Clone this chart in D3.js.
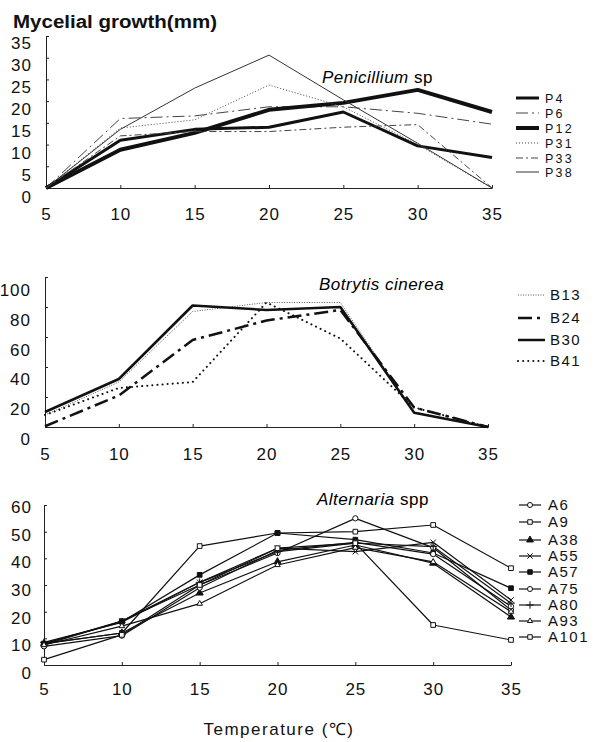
<!DOCTYPE html>
<html>
<head>
<meta charset="utf-8">
<script src="https://cdn.jsdelivr.net/npm/d3@7"></script>
<style>
  body { margin: 0; background: #fff; }
  svg { font-family: "Liberation Sans", Arial, sans-serif; }
  .axis path, .axis line { stroke: #222; stroke-width: 1px; }
  .axis text { font-size: 17px; fill: #111; letter-spacing: 1px; }
  .legend text { font-size: 15px; fill: #111; letter-spacing: 1.5px; }
  .legend.tight text { font-size: 12.5px; letter-spacing: 2.2px; }
</style>
</head>
<body>
<script>
// temperatures (x)
var temps = [5, 10, 15, 20, 25, 30, 35];

// Penicillium sp
var penNames = ["P4", "P6", "P12", "P31", "P33", "P38"];
var P4  = [0, 11, 13.5, 14, 17.5, 9.7, 7];
var P6  = [0, 16, 16.6, 18.7, 18.7, 17.2, 14.7];
var P12 = [0, 8.8, 12.7, 18, 19.6, 22.6, 17.5];
var P31 = [0, 13.8, 15.7, 23.7, 18.7, 10, 0];
var P33 = [0, 12, 13, 13, 14, 14.6, 0];
var P38 = [0, 13.5, 23, 30.6, 20.3, 10.3, 0];
var penTicks = [0, 5, 10, 15, 20, 25, 30, 35];

// Botrytis cinerea
var botNames = ["B13", "B24", "B30", "B41"];
var B13 = [8, 30, 77, 83, 83, 10, 0];
var B24 = [0.5, 21, 58, 71, 78, 13, 0];
var B30 = [10, 32, 81, 78, 80, 9.5, 0];
var B41 = [8, 26, 30, 83, 59, 13, 0];
var botTicks = [0, 20, 40, 60, 80, 100];

// Alternaria spp
var altNames = ["A6", "A9", "A38", "A55", "A57", "A75", "A80", "A93", "A101"];
var A6   = [8, 16.5, 30, 42, 55, 44, 20.6];
var A9   = [8, 12, 44.6, 49.5, 50, 52.5, 36.3];
var A38  = [8, 12, 27, 38.7, 45, 38.2, 18];
var A55  = [7.5, 16.5, 31, 43.8, 42.5, 46, 24.4];
var A57  = [8, 16.2, 33.8, 49.5, 47, 42, 28.8];
var A75  = [7, 11, 29, 43, 46, 41.6, 22];
var A80  = [8.5, 16, 31, 42.5, 45.7, 44.4, 23.2];
var A93  = [7.5, 14.6, 23, 37.5, 44, 38.7, 20];
var A101 = [2, 11.3, 30, 43.8, 45.7, 15, 9.4];
var altTicks = [0, 10, 20, 30, 40, 50, 60];

var svg = d3.select("body").append("svg")
  .attr("width", 598)
  .attr("height", 742);

// draws both axes; labels of the y axis sit a little lower than the ticks, as in the scan
function axes(x, y, yTicks, labelY, xPad, yPad) {
  var gx = svg.append("g")
    .attr("class", "axis")
    .attr("transform", "translate(0," + y(0) + ")")
    .call(d3.axisBottom(x).tickValues(temps).tickSizeInner(-3).tickSizeOuter(0).tickPadding(xPad));
  gx.selectAll("text").attr("dy", "0.71em");

  var gy = svg.append("g")
    .attr("class", "axis")
    .attr("transform", "translate(" + x(5) + ",0)")
    .call(d3.axisLeft(y).tickValues(yTicks).tickSizeInner(-3).tickSizeOuter(0).tickPadding(yPad));
  gy.selectAll("text").attr("y", function(d) { return labelY(d) - y(d); });
}

function lines(x, y, series) {
  var line = d3.line()
    .x(function(d, i) { return x(temps[i]); })
    .y(function(d) { return y(d); });
  svg.append("g").selectAll("path")
    .data(series)
    .enter().append("path")
    .attr("d", function(s) { return line(s.values); })
    .attr("fill", "none")
    .attr("stroke", function(s) { return s.color || "#111"; })
    .attr("stroke-width", function(s) { return s.width; })
    .attr("stroke-dasharray", function(s) { return s.dash; })
    .attr("stroke-linecap", function(s) { return s.cap || "butt"; })
    .attr("stroke-linejoin", "round");
}

function legend(series, x0, x1, tx, ys, cls) {
  var g = svg.append("g").attr("class", "legend " + (cls || ""));
  var item = g.selectAll("g").data(series).enter().append("g")
    .attr("transform", function(s, i) { return "translate(0," + ys[i] + ")"; });
  item.append("line")
    .attr("x1", x0).attr("x2", x1)
    .attr("stroke", function(s) { return s.color || "#111"; })
    .attr("stroke-width", function(s) { return s.width; })
    .attr("stroke-dasharray", function(s) { return s.dash; })
    .attr("stroke-linecap", function(s) { return s.cap || "butt"; });
  item.append("text")
    .attr("x", tx)
    .attr("dy", "0.36em")
    .text(function(s) { return s.name; });
  return item;
}

function title(x, y, italic, plain) {
  var t = svg.append("text")
    .attr("x", x).attr("y", y)
    .style("font-size", "17px")
    .style("letter-spacing", "0.5px");
  t.append("tspan").style("font-style", "italic").text(italic);
  if (plain) { t.append("tspan").text(" " + plain); }
}

// ---------- Penicillium ----------
var x1 = d3.scaleLinear().domain([5, 35]).range([46, 492]);
var y1 = d3.scaleLinear().domain([0, 35]).range([188, 36]);
var y1l = d3.scaleLinear().domain([0, 35]).range([197, 43]);

svg.append("text")
  .attr("x", 13).attr("y", 28)
  .attr("textLength", 204).attr("lengthAdjust", "spacingAndGlyphs")
  .style("font-size", "18px").style("font-weight", "bold").style("fill", "#111")
  .text("Mycelial growth(mm)");

axes(x1, y1, penTicks, y1l, 20, 14);

var pen = [
  { name: "P4",  values: P4,  width: 3,   dash: null },
  { name: "P6",  values: P6,  width: 1,   dash: "12,4,2,4", color: "#444" },
  { name: "P12", values: P12, width: 4,   dash: null },
  { name: "P31", values: P31, width: 1,   dash: "1,2", color: "#444" },
  { name: "P33", values: P33, width: 1,   dash: "7,3,2,3", color: "#444" },
  { name: "P38", values: P38, width: 1,   dash: null, color: "#333" }
];
lines(x1, y1, pen);
legend(pen, 516, 539, 545, [98, 113, 128, 143, 158, 172], "tight");
title(322, 83, "Penicillium", "sp");

// ---------- Botrytis ----------
var x2 = d3.scaleLinear().domain([5, 35]).range([45, 488]);
var y2 = d3.scaleLinear().domain([0, 100]).range([427, 277]);
var y2l = d3.scaleLinear().domain([0, 100]).range([439, 290]);

axes(x2, y2, botTicks, y2l, 21, 14);

var bot = [
  { name: "B13", values: B13, width: 1,   dash: "1,1.5", color: "#555" },
  { name: "B24", values: B24, width: 2.5, dash: "14,5,3,5" },
  { name: "B30", values: B30, width: 2.5, dash: null },
  { name: "B41", values: B41, width: 2,   dash: "0.1,5", cap: "round" }
];
lines(x2, y2, bot);
legend(bot, 518, 545, 550, [295, 318, 340, 361]);
title(319, 290, "Botrytis cinerea", null);

// ---------- Alternaria ----------
var x3 = d3.scaleLinear().domain([5, 35]).range([44, 511]);
var y3 = d3.scaleLinear().domain([0, 60]).range([665, 505]);
var y3l = d3.scaleLinear().domain([0, 60]).range([673, 507]);

axes(x3, y3, altTicks, y3l, 18, 12);

var alt = [
  { name: "A6",   values: A6,   sym: d3.symbolCircle,   fill: "#fff" },
  { name: "A9",   values: A9,   sym: d3.symbolSquare,   fill: "#fff" },
  { name: "A38",  values: A38,  sym: d3.symbolTriangle, fill: "#111" },
  { name: "A55",  values: A55,  sym: d3.symbolTimes,    fill: "none" },
  { name: "A57",  values: A57,  sym: d3.symbolSquare,   fill: "#111" },
  { name: "A75",  values: A75,  sym: d3.symbolCircle,   fill: "#fff" },
  { name: "A80",  values: A80,  sym: d3.symbolPlus,     fill: "none" },
  { name: "A93",  values: A93,  sym: d3.symbolTriangle2, fill: "#fff" },
  { name: "A101", values: A101, sym: d3.symbolSquare,   fill: "#fff" }
];
alt.forEach(function(s) { s.width = 1.2; s.dash = null; });
lines(x3, y3, alt);

var mark = svg.append("g").selectAll("g").data(alt).enter().append("g");
mark.selectAll("path")
  .data(function(s) { return s.values.map(function(v, i) { return { s: s, t: temps[i], v: v }; }); })
  .enter().append("path")
  .attr("transform", function(d) { return "translate(" + x3(d.t) + "," + y3(d.v) + ")"; })
  .attr("d", function(d) { return d3.symbol().type(d.s.sym).size(22)(); })
  .attr("fill", function(d) { return d.s.fill; })
  .attr("stroke", "#111")
  .attr("stroke-width", 1);

var altYs = [505, 522, 540, 556, 572, 589, 605, 621, 637];
var li = legend(alt, 519, 541, 548, altYs);
li.append("path")
  .attr("transform", "translate(530,0)")
  .attr("d", function(s) { return d3.symbol().type(s.sym).size(20)(); })
  .attr("fill", function(s) { return s.fill; })
  .attr("stroke", "#111")
  .attr("stroke-width", 1);
title(317, 505, "Alternaria", "spp");

svg.append("text")
  .attr("x", 279).attr("y", 735)
  .attr("text-anchor", "middle")
  .style("font-size", "17px")
  .style("letter-spacing", "1.5px")
  .style("fill", "#111")
  .text("Temperature (℃)");
</script>
</body>
</html>
